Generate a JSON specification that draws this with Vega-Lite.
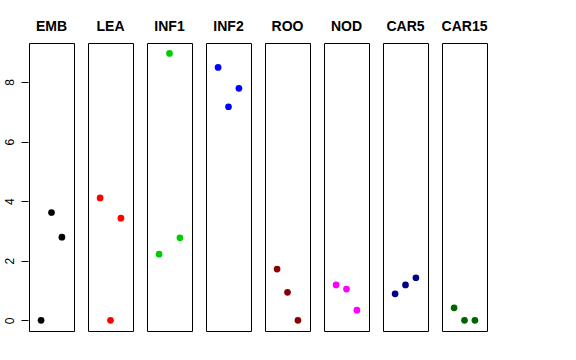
{
  "$schema": "https://vega.github.io/schema/vega-lite/v6.json",
  "padding": {"left": 3, "top": 20, "right": 5, "bottom": 5},
  "background": "white",
  "data": {"values": [
    {"tissue": "EMB", "x": 1, "y": 0},
    {"tissue": "EMB", "x": 2, "y": 3.62},
    {"tissue": "EMB", "x": 3, "y": 2.79},
    {"tissue": "LEA", "x": 1, "y": 4.11},
    {"tissue": "LEA", "x": 2, "y": 0},
    {"tissue": "LEA", "x": 3, "y": 3.43},
    {"tissue": "INF1", "x": 1, "y": 2.22},
    {"tissue": "INF1", "x": 2, "y": 8.96},
    {"tissue": "INF1", "x": 3, "y": 2.77},
    {"tissue": "INF2", "x": 1, "y": 8.49},
    {"tissue": "INF2", "x": 2, "y": 7.17},
    {"tissue": "INF2", "x": 3, "y": 7.79},
    {"tissue": "ROO", "x": 1, "y": 1.72},
    {"tissue": "ROO", "x": 2, "y": 0.94},
    {"tissue": "ROO", "x": 3, "y": 0},
    {"tissue": "NOD", "x": 1, "y": 1.19},
    {"tissue": "NOD", "x": 2, "y": 1.05},
    {"tissue": "NOD", "x": 3, "y": 0.34},
    {"tissue": "CAR5", "x": 1, "y": 0.89},
    {"tissue": "CAR5", "x": 2, "y": 1.19},
    {"tissue": "CAR5", "x": 3, "y": 1.43},
    {"tissue": "CAR15", "x": 1, "y": 0.42},
    {"tissue": "CAR15", "x": 2, "y": 0},
    {"tissue": "CAR15", "x": 3, "y": 0}
  ]},
  "facet": {
    "column": {
      "field": "tissue",
      "type": "nominal",
      "sort": ["EMB", "LEA", "INF1", "INF2", "ROO", "NOD", "CAR5", "CAR15"],
      "title": null,
      "header": {
        "labelFont": "Liberation Sans",
        "labelFontSize": 14,
        "labelFontWeight": "bold",
        "labelColor": "black",
        "labelPadding": 8
      }
    }
  },
  "spacing": 12,
  "spec": {
    "width": 45,
    "height": 288,
    "mark": {"type": "point", "filled": true, "shape": "circle", "size": 45, "opacity": 1},
    "encoding": {
      "x": {
        "field": "x",
        "type": "quantitative",
        "scale": {"domain": [-0.16, 4.16], "nice": false, "zero": false},
        "axis": null
      },
      "y": {
        "field": "y",
        "type": "quantitative",
        "scale": {"domain": [-0.358, 9.31], "nice": false, "zero": false},
        "axis": {
          "values": [0, 2, 4, 6, 8],
          "title": null,
          "grid": false,
          "domain": false,
          "tickSize": 7,
          "tickColor": "black",
          "labelAngle": -90,
          "labelAlign": "center",
          "labelBaseline": "alphabetic",
          "labelPadding": 8,
          "labelFont": "Liberation Sans",
          "labelFontSize": 12,
          "labelColor": "black"
        }
      },
      "color": {
        "field": "tissue",
        "type": "nominal",
        "scale": {
          "domain": ["EMB", "LEA", "INF1", "INF2", "ROO", "NOD", "CAR5", "CAR15"],
          "range": ["#000000", "#FF0000", "#00CD00", "#0000FF", "#8B0000", "#FF00FF", "#00008B", "#006400"]
        },
        "legend": null
      }
    }
  },
  "config": {
    "view": {"stroke": "black", "strokeWidth": 1}
  }
}
